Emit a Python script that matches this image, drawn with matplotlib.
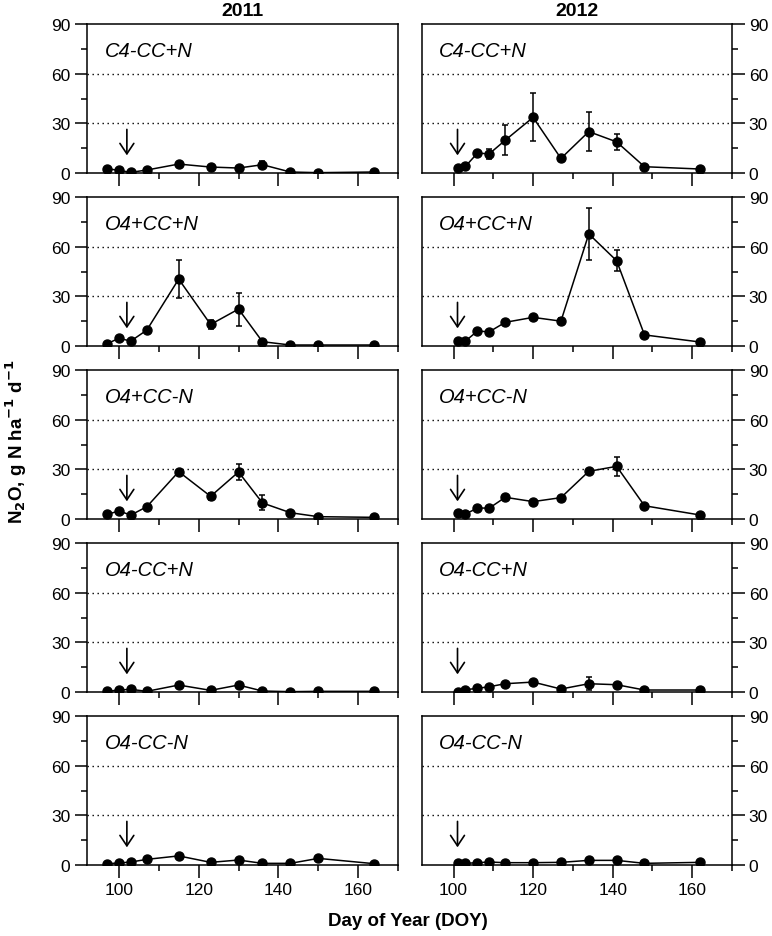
"""N2O flux by treatment, 2011 vs 2012 (day of year)"""
import numpy as np
import matplotlib
matplotlib.use("Agg")
from matplotlib import pyplot as plt
from matplotlib.ticker import MultipleLocator

plt.rcParams['font.family'] = ['Liberation Sans', 'DejaVu Sans']

treatments = ['C4-CC+N', 'O4+CC+N', 'O4+CC-N', 'O4-CC+N', 'O4-CC-N']
years = ['2011', '2012']

doy_2011 = [97, 100, 103, 107, 115, 123, 130, 136, 143, 150, 164]
doy_2012 = [101, 103, 106, 109, 113, 120, 127, 134, 141, 148, 162]

# mean flux, 2011
n2o_2011 = {
    'C4-CC+N': [2.6, 1.6, 0.4, 1.8, 5.4, 3.6, 3.0, 5.0, 0.6, 0.2, 0.6],
    'O4+CC+N': [1.4, 4.6, 3.0, 9.6, 40.4, 13.0, 22.3, 2.6, 0.6, 0.6, 0.6],
    'O4+CC-N': [2.8, 4.8, 2.4, 7.4, 28.6, 13.7, 28.4, 9.7, 3.8, 1.4, 1.0],
    'O4-CC+N': [0.4, 1.2, 1.6, 0.4, 4.2, 1.0, 4.2, 0.6, 0.2, 0.4, 0.4],
    'O4-CC-N': [0.8, 1.2, 1.8, 3.4, 5.5, 1.6, 3.0, 1.0, 1.0, 4.0, 0.8],
}
err_2011 = {
    'C4-CC+N': [0, 0, 0, 0, 0, 0, 0, 2.0, 0, 0, 0],
    'O4+CC+N': [0, 0, 0, 0, 11.5, 2.7, 10.0, 0, 0, 0, 0],
    'O4+CC-N': [0, 0, 0, 0, 0, 2.0, 4.8, 4.5, 0, 0, 0],
    'O4-CC+N': [0] * 11,
    'O4-CC-N': [0] * 11,
}

# mean flux, 2012
n2o_2012 = {
    'C4-CC+N': [3.2, 4.0, 12.0, 11.6, 19.8, 33.6, 8.8, 25.0, 18.8, 3.8, 2.4],
    'O4+CC+N': [3.0, 3.0, 9.0, 8.6, 14.3, 17.3, 15.0, 67.7, 51.5, 6.7, 2.4],
    'O4+CC-N': [3.4, 3.0, 6.6, 6.6, 13.1, 10.5, 12.9, 28.8, 31.8, 8.0, 2.4],
    'O4-CC+N': [0.2, 1.4, 2.2, 3.2, 5.0, 6.0, 1.8, 5.0, 4.4, 1.2, 1.2],
    'O4-CC-N': [1.0, 1.0, 1.4, 1.8, 1.4, 1.4, 1.6, 2.8, 2.8, 1.0, 1.6],
}
err_2012 = {
    'C4-CC+N': [0, 0, 0, 3.0, 9.0, 14.5, 0, 11.8, 4.9, 0, 0],
    'O4+CC+N': [0, 0, 0, 0, 0, 0, 2.0, 15.7, 6.3, 0, 0],
    'O4+CC-N': [0, 0, 0, 0, 0, 0, 0, 0, 5.9, 0, 0],
    'O4-CC+N': [0, 0, 0, 0, 0, 0, 0, 3.8, 0, 0, 0],
    'O4-CC-N': [0] * 11,
}

# day of fertilizer / arrow marker
arrow_doy = {'2011': 102, '2012': 101}

W, H = 772, 937
fig = plt.figure(figsize=(W / 100, H / 100), dpi=100)

col_left = [87, 421.7]
col_width = [311, 310.3]
row_top = [25 + 173 * i for i in range(5)]
row_h = 149

data = {'2011': (doy_2011, n2o_2011, err_2011),
        '2012': (doy_2012, n2o_2012, err_2012)}

for j, yr in enumerate(years):
    doy, vals, errs = data[yr]
    for i, trt in enumerate(treatments):
        ax = fig.add_axes([col_left[j] / W, 1 - (row_top[i] + row_h) / H,
                           col_width[j] / W, row_h / H])
        ax.errorbar(doy, vals[trt], yerr=errs[trt], color='black', lw=1.1,
                    marker='o', ms=6.5, capsize=2.5, elinewidth=1.1,
                    capthick=1.1, zorder=3)
        for g in (30, 60):
            ax.axhline(g, color='black', lw=1.0, ls=(0, (1, 2.6)), zorder=1)
        ax.annotate('', xy=(arrow_doy[yr], 9), xytext=(arrow_doy[yr], 28),
                    arrowprops=dict(arrowstyle='->,head_length=0.75,head_width=0.5',
                                    color='black', lw=1.2))
        ax.text(0.056, 0.82, trt, transform=ax.transAxes, fontsize=14.5,
                style='italic', va='center', ha='left')

        ax.set_xlim(92, 170)
        ax.set_ylim(0, 90)
        ax.xaxis.set_major_locator(MultipleLocator(20))
        ax.xaxis.set_minor_locator(MultipleLocator(10))
        ax.yaxis.set_major_locator(MultipleLocator(30))
        ax.yaxis.set_minor_locator(MultipleLocator(15))
        ax.tick_params(which='both', direction='out', width=1.1,
                       labelsize=12.5, pad=3, top=False)
        ax.tick_params(which='major', length=9)
        ax.tick_params(which='minor', length=4.5)
        if j == 0:
            ax.tick_params(axis='y', which='both', left=True, right=False)
        else:
            ax.tick_params(axis='y', which='both', left=False, right=True,
                           labelleft=False, labelright=True)
        if i < 4:
            ax.tick_params(axis='x', labelbottom=False)
        for s in ax.spines.values():
            s.set_linewidth(1.1)

    cx = (col_left[j] + col_width[j] / 2) / W
    fig.text(cx, 1 - 12 / H, yr, ha='center', va='center',
             fontsize=14, fontweight='bold')

fig.text(408 / W, 1 - 922 / H, 'Day of Year (DOY)', ha='center', va='center',
         fontsize=13.5, fontweight='bold')
fig.text(16 / W, 1 - 442 / H, r'N$_\mathbf{2}$O, g N ha$^\mathbf{-1}$ d$^\mathbf{-1}$',
         rotation=90, ha='center', va='center', fontsize=13.5, fontweight='bold')

fig.savefig('out.png', dpi=100)
